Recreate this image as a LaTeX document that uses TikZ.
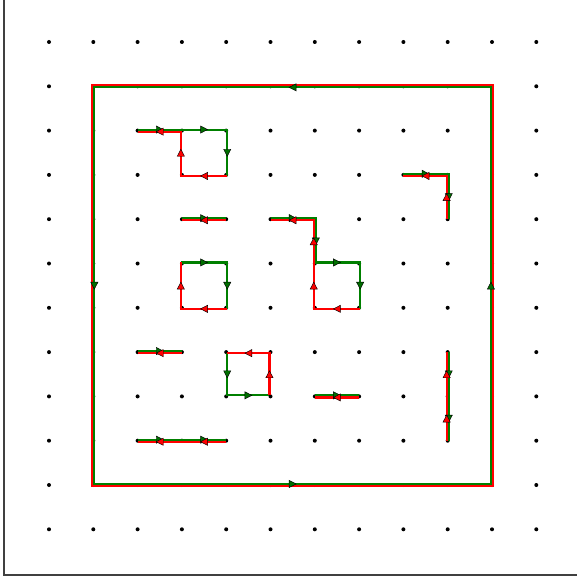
\documentclass[tikz,border=0pt]{standalone}
\usetikzlibrary{decorations.markings}
\definecolor{gr}{RGB}{0,128,0}
\definecolor{rd}{RGB}{255,0,0}
\definecolor{garrfill}{RGB}{0,110,0}
\newcommand\dq{1.05pt}
\tikzset{
  gline/.style={draw=gr, line width=2.1pt, line join=miter},
  rline/.style={draw=rd, line width=2.1pt, line join=miter},
  griddot/.style={fill=black},
  frameline/.style={draw=black!75, line width=1.3pt},
}
% #1 fill colour, #2 from, #3 to, #4 #5 offset multiples
\newcommand\harr[5]{%
  \path[decoration={markings,mark=at position 0.5 with {\filldraw[fill=#1,draw=black,line width=0.45pt] (3.5pt,0pt) -- (-3.5pt,3.6pt) -- (-3.5pt,-3.6pt) -- cycle;}},decorate]
    ([shift={(#4*\dq,#5*\dq)}]#2) -- ([shift={(#4*\dq,#5*\dq)}]#3);}
\begin{document}
\begin{tikzpicture}[x=44.3pt,y=-44.3pt]
\useasboundingbox (-1.1061,-0.9481) rectangle (11.9187,12.0993);
% frame
\draw[frameline] (-1.0158,-1.2) -- (-1.0158,12.0316) -- (12.2,12.0316);
% grid dots
\foreach \i in {0,...,11}{
  \foreach \j in {0,...,11}{
    \fill[griddot] (\i,\j) circle (2pt);
  }
}
% ---- outer square
\draw[rline] ([shift={(\dq,\dq)}]10,1) -- ([shift={(-\dq,\dq)}]1,1) -- ([shift={(-\dq,-\dq)}]1,10) -- ([shift={(\dq,-\dq)}]10,10) -- cycle;
\draw[gline] ([shift={(-\dq,-\dq)}]10,1) -- ([shift={(\dq,-\dq)}]1,1) -- ([shift={(\dq,\dq)}]1,10) -- ([shift={(-\dq,\dq)}]10,10) -- cycle;
% ---- loop B: segment (2,2)-(3,2) + square (3,2)-(4,3)
\draw[gline] ([shift={(0,\dq)}]2,2) -- ([shift={(0,\dq)}]3,2) -- ([shift={(\dq,\dq)}]4,2) -- ([shift={(\dq,-\dq)}]4,3);
\draw[rline] ([shift={(\dq,-\dq)}]4,3) -- ([shift={(-\dq,-\dq)}]3,3) -- ([shift={(-\dq,-\dq)}]3,2) -- ([shift={(0,-\dq)}]2,2);
% ---- C: (3,4)-(4,4)
\draw[gline] ([shift={(0,\dq)}]3,4) -- ([shift={(0,\dq)}]4,4);
\draw[rline] ([shift={(0,-\dq)}]4,4) -- ([shift={(0,-\dq)}]3,4);
% ---- D: path (5,4)-(6,4)-(6,5) + square (6,5)-(7,6)
\draw[gline] ([shift={(0,\dq)}]5,4) -- ([shift={(\dq,\dq)}]6,4) -- ([shift={(\dq,\dq)}]6,5) -- ([shift={(\dq,\dq)}]7,5) -- ([shift={(\dq,-\dq)}]7,6);
\draw[rline] ([shift={(\dq,-\dq)}]7,6) -- ([shift={(-\dq,-\dq)}]6,6) -- ([shift={(-\dq,0)}]6,5) -- ([shift={(-\dq,-\dq)}]6,4) -- ([shift={(0,-\dq)}]5,4);
% ---- E: square (3,5)-(4,6)
\draw[gline] ([shift={(-\dq,\dq)}]3,5) -- ([shift={(\dq,\dq)}]4,5) -- ([shift={(\dq,-\dq)}]4,6);
\draw[rline] ([shift={(\dq,-\dq)}]4,6) -- ([shift={(-\dq,-\dq)}]3,6) -- ([shift={(-\dq,\dq)}]3,5);
% ---- F: (8,3)-(9,3)-(9,4)
\draw[gline] ([shift={(0,\dq)}]8,3) -- ([shift={(\dq,\dq)}]9,3) -- ([shift={(\dq,0)}]9,4);
\draw[rline] ([shift={(-\dq,0)}]9,4) -- ([shift={(-\dq,-\dq)}]9,3) -- ([shift={(0,-\dq)}]8,3);
% ---- G: (2,7)-(3,7)
\draw[gline] ([shift={(0,\dq)}]2,7) -- ([shift={(0,\dq)}]3,7);
\draw[rline] ([shift={(0,-\dq)}]3,7) -- ([shift={(0,-\dq)}]2,7);
% ---- H: square (4,7)-(5,8)
\draw[gline] ([shift={(\dq,-\dq)}]4,7) -- ([shift={(\dq,\dq)}]4,8) -- ([shift={(-\dq,\dq)}]5,8);
\draw[rline] ([shift={(-\dq,\dq)}]5,8) -- ([shift={(-\dq,-\dq)}]5,7) -- ([shift={(\dq,-\dq)}]4,7);
% ---- I: (6,8)-(7,8)
\draw[gline] ([shift={(0,\dq)}]6,8) -- ([shift={(0,\dq)}]7,8);
\draw[rline] ([shift={(0,-\dq)}]7,8) -- ([shift={(0,-\dq)}]6,8);
% ---- J: (9,7)-(9,9)
\draw[gline] ([shift={(\dq,0)}]9,7) -- ([shift={(\dq,0)}]9,9);
\draw[rline] ([shift={(-\dq,0)}]9,9) -- ([shift={(-\dq,0)}]9,7);
% ---- K: (2,9)-(4,9)
\draw[gline] ([shift={(0,\dq)}]2,9) -- ([shift={(0,\dq)}]4,9);
\draw[rline] ([shift={(0,-\dq)}]4,9) -- ([shift={(0,-\dq)}]2,9);
% ================= arrows
% outer (green only)
\harr{garrfill}{10,1}{1,1}{0}{-1}
\harr{garrfill}{1,1}{1,10}{1}{0}
\harr{garrfill}{1,10}{10,10}{0}{1}
\harr{garrfill}{10,10}{10,1}{-1}{0}
% B
\harr{garrfill}{2,2}{3,2}{0}{1}
\harr{garrfill}{3,2}{4,2}{0}{1}
\harr{garrfill}{4,2}{4,3}{1}{0}
\harr{rd}{4,3}{3,3}{0}{-1}
\harr{rd}{3,3}{3,2}{-1}{0}
\harr{rd}{3,2}{2,2}{0}{-1}
% C
\harr{garrfill}{3,4}{4,4}{0}{1}
\harr{rd}{4,4}{3,4}{0}{-1}
% D
\harr{garrfill}{5,4}{6,4}{0}{1}
\harr{garrfill}{6,4}{6,5}{1}{0}
\harr{garrfill}{6,5}{7,5}{0}{1}
\harr{garrfill}{7,5}{7,6}{1}{0}
\harr{rd}{7,6}{6,6}{0}{-1}
\harr{rd}{6,6}{6,5}{-1}{0}
\harr{rd}{6,5}{6,4}{-1}{0}
\harr{rd}{6,4}{5,4}{0}{-1}
% E
\harr{garrfill}{3,5}{4,5}{0}{1}
\harr{garrfill}{4,5}{4,6}{1}{0}
\harr{rd}{4,6}{3,6}{0}{-1}
\harr{rd}{3,6}{3,5}{-1}{0}
% F
\harr{garrfill}{8,3}{9,3}{0}{1}
\harr{garrfill}{9,3}{9,4}{1}{0}
\harr{rd}{9,4}{9,3}{-1}{0}
\harr{rd}{9,3}{8,3}{0}{-1}
% G
\harr{garrfill}{2,7}{3,7}{0}{1}
\harr{rd}{3,7}{2,7}{0}{-1}
% H
\harr{garrfill}{4,7}{4,8}{1}{0}
\harr{garrfill}{4,8}{5,8}{0}{1}
\harr{rd}{5,8}{5,7}{-1}{0}
\harr{rd}{5,7}{4,7}{0}{-1}
% I
\harr{garrfill}{6,8}{7,8}{0}{1}
\harr{rd}{7,8}{6,8}{0}{-1}
% J
\harr{garrfill}{9,7}{9,8}{1}{0}
\harr{garrfill}{9,8}{9,9}{1}{0}
\harr{rd}{9,9}{9,8}{-1}{0}
\harr{rd}{9,8}{9,7}{-1}{0}
% K
\harr{garrfill}{2,9}{3,9}{0}{1}
\harr{garrfill}{3,9}{4,9}{0}{1}
\harr{rd}{4,9}{3,9}{0}{-1}
\harr{rd}{3,9}{2,9}{0}{-1}
\end{tikzpicture}
\end{document}
